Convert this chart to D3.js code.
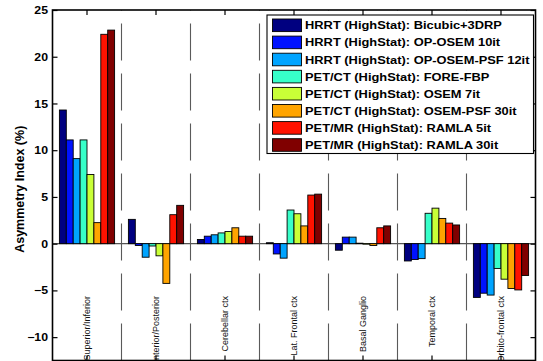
<!DOCTYPE html>
<html>
<head>
<meta charset="utf-8">
<script src="https://cdn.jsdelivr.net/npm/d3@7"></script>
<style>
  html, body { margin: 0; padding: 0; background: #fff; }
  svg { display: block; }
  text { font-family: "Liberation Sans", Arial, Helvetica, sans-serif; }
</style>
</head>
<body>
<svg id="chart" width="543" height="361"></svg>
<script>
// Regions along the x axis
const categories = [
  "Superior/Inferior", "Anterior/Posterior", "Cerebellar ctx",
  "Lat. Frontal ctx", "Basal Ganglio", "Temporal ctx", "Orbito-frontal ctx"
];

// Reconstruction series (legend order)
const seriesNames = [
  "HRRT (HighStat): Bicubic+3DRP",
  "HRRT (HighStat): OP-OSEM 10it",
  "HRRT (HighStat): OP-OSEM-PSF 12it",
  "PET/CT (HighStat): FORE-FBP",
  "PET/CT (HighStat): OSEM 7it",
  "PET/CT (HighStat): OSEM-PSF 30it",
  "PET/MR (HighStat): RAMLA 5it",
  "PET/MR (HighStat): RAMLA 30it"
];

// Asymmetry index (%) per region, one array per series
const hrrtBicubic3DRP   = [14.3,  2.6,  0.45,  0.1, -0.7, -1.85, -5.75];
const hrrtOpOsem10      = [11.1, -0.2,  0.8,  -1.1,  0.7, -1.7,  -5.3];
const hrrtOpOsemPsf12   = [ 9.1, -1.45, 0.95, -1.55, 0.7, -1.6,  -5.5];
const petctForeFbp      = [11.1, -0.25, 1.15,  3.6,  0.05, 3.25, -2.65];
const petctOsem7        = [ 7.4, -1.3,  1.3,   3.2, -0.05, 3.8,  -3.8];
const petctOsemPsf30    = [ 2.25,-4.25, 1.7,   1.9, -0.2,  2.7,  -4.8];
const petmrRamla5       = [22.4,  3.1,  0.8,   5.2,  1.7,  2.2,  -4.95];
const petmrRamla30      = [22.85, 4.1,  0.8,   5.3,  1.9,  2.0,  -3.4];

const seriesValues = [
  hrrtBicubic3DRP, hrrtOpOsem10, hrrtOpOsemPsf12, petctForeFbp,
  petctOsem7, petctOsemPsf30, petmrRamla5, petmrRamla30
];

// Jet-style palette, 8 steps
const seriesColors = [
  "#000080", "#0012ff", "#00a4ff", "#37ffc9",
  "#c9ff37", "#ffa400", "#ff1200", "#800000"
];

const yTicks = [-10, -5, 0, 5, 10, 15, 20, 25];
const yDomain = [-12.5, 25];

// ---- layout ----
const plotLeft = 52.5, plotRight = 535.5, plotTop = 10, plotBottom = 360.5;
const stretch = 1.17;   // horizontal glyph stretch of the printed figure

const svg = d3.select("#chart");

const x = d3.scaleBand().domain(categories).range([plotLeft, plotRight]).paddingInner(0).paddingOuter(0);
const xs = d3.scaleBand().domain(d3.range(seriesNames.length))
  .range([x.bandwidth() * 0.1, x.bandwidth() * 0.9]).padding(0);
const y = d3.scaleLinear().domain(yDomain).range([plotBottom, plotTop]);

// dashed separators between regions
const seps = d3.range(1, categories.length).map(i => plotLeft + i * x.bandwidth());
svg.append("g").selectAll("line").data(seps).join("line")
  .attr("x1", d => d).attr("x2", d => d)
  .attr("y1", plotBottom).attr("y2", plotTop)
  .attr("stroke", "#5a5a5a").attr("stroke-width", 1.1)
  .attr("stroke-dasharray", "37,13");

// zero baseline
svg.append("line")
  .attr("x1", plotLeft).attr("x2", plotRight)
  .attr("y1", y(0)).attr("y2", y(0))
  .attr("stroke", "#555").attr("stroke-width", 1.1);

// grouped bars
const barRows = [];
seriesValues.forEach((vals, s) => vals.forEach((v, c) => barRows.push({ s, c, v })));
svg.append("g").selectAll("rect").data(barRows).join("rect")
  .attr("x", d => x(categories[d.c]) + xs(d.s))
  .attr("width", xs.bandwidth())
  .attr("y", d => y(Math.max(0, d.v)))
  .attr("height", d => Math.abs(y(d.v) - y(0)))
  .attr("fill", d => seriesColors[d.s])
  .attr("stroke", "#000").attr("stroke-width", 0.9);

// region labels, vertical inside the plot
svg.append("g").selectAll("text").data(categories).join("text")
  .attr("transform", d => `translate(${x(d) + x.bandwidth() / 2 + 3.2},296) rotate(-90)`)
  .attr("text-anchor", "end")
  .attr("font-size", 9)
  .attr("fill", "#111")
  .text(d => d);

// axes
const tickLen = 5;
const yLeft = d3.axisLeft(y).tickValues(yTicks).tickSizeInner(-tickLen).tickSizeOuter(0).tickPadding(4)
  .tickFormat(d3.format("d"));
const gL = svg.append("g").attr("transform", `translate(${plotLeft},0)`).call(yLeft);
gL.selectAll("text")
  .attr("x", null).attr("dy", "0.34em")
  .attr("transform", `translate(-4.5,0) scale(${stretch},1)`)
  .attr("font-size", 10.5).attr("font-weight", "bold").attr("fill", "#000");

const yRight = d3.axisRight(y).tickValues(yTicks).tickSizeInner(-tickLen).tickSizeOuter(0).tickFormat("");
svg.append("g").attr("transform", `translate(${plotRight},0)`).call(yRight);

const xBottom = d3.axisBottom(x).tickSizeInner(-tickLen).tickSizeOuter(0).tickFormat("");
svg.append("g").attr("transform", `translate(0,${plotBottom})`).call(xBottom);
const xTop = d3.axisTop(x).tickSizeInner(-tickLen).tickSizeOuter(0).tickFormat("");
svg.append("g").attr("transform", `translate(0,${plotTop})`).call(xTop);

svg.selectAll(".domain").remove();
svg.selectAll(".tick line").attr("stroke", "#000").attr("stroke-width", 1.2);

// axes box
svg.append("rect")
  .attr("x", plotLeft).attr("y", plotTop)
  .attr("width", plotRight - plotLeft).attr("height", plotBottom - plotTop)
  .attr("fill", "none").attr("stroke", "#000").attr("stroke-width", 1.6);

// y axis title
svg.append("text")
  .attr("transform", `translate(23.5,${(plotTop + plotBottom) / 2 + 4}) rotate(-90)`)
  .attr("text-anchor", "middle")
  .attr("font-size", 12.5).attr("font-weight", "bold")
  .text("Asymmetry Index (%)");

// legend
const lg = { x: 267, y: 15, w: 266.5, h: 138.5, row: 17.1 };
const legend = svg.append("g");
legend.append("rect")
  .attr("x", lg.x).attr("y", lg.y).attr("width", lg.w).attr("height", lg.h)
  .attr("fill", "#fff").attr("stroke", "#000").attr("stroke-width", 1.1);
const items = legend.selectAll("g.item").data(seriesNames).join("g")
  .attr("class", "item")
  .attr("transform", (d, i) => `translate(${lg.x},${lg.y + 10.3 + i * lg.row})`);
items.append("rect")
  .attr("x", 5.5).attr("y", -6.3).attr("width", 29).attr("height", 12.6)
  .attr("fill", (d, i) => seriesColors[i])
  .attr("stroke", "#000").attr("stroke-width", 0.9);
items.append("text")
  .attr("transform", `translate(38,4) scale(${stretch},1)`)
  .attr("font-size", 11).attr("font-weight", "bold").attr("fill", "#000")
  .text(d => d);
</script>
</body>
</html>
